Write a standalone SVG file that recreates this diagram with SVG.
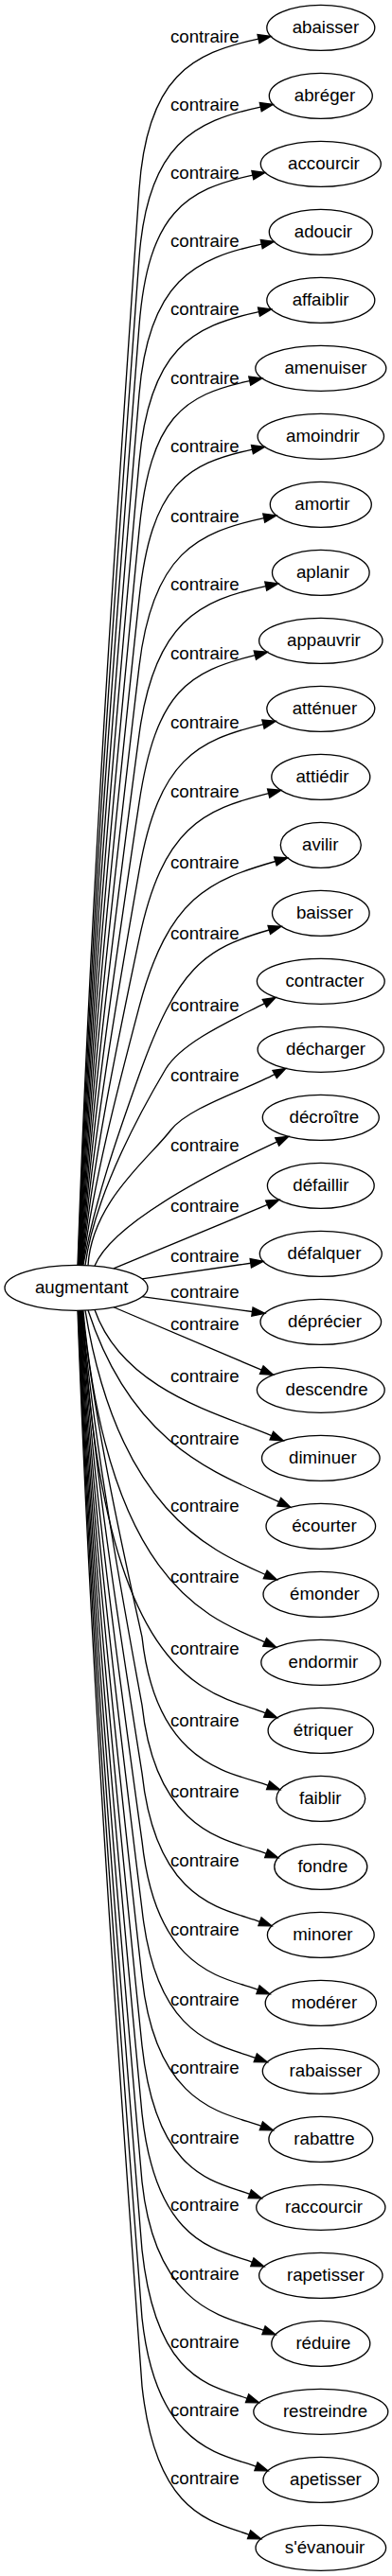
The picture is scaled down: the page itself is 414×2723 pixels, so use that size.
<svg xmlns="http://www.w3.org/2000/svg" width="414" height="2723" viewBox="0 0 414 2723">
<style>
text{font-family:"Liberation Sans",Arial,sans-serif;font-size:18.67px;fill:#000}
.node ellipse{fill:none;stroke:#000;stroke-width:1.33}
.edge path{fill:none;stroke:#000;stroke-width:1.33}
.edge polygon{fill:#000;stroke:#000;stroke-width:1.33}
</style>
<rect x="0" y="0" width="414" height="2723" fill="#fff"/>
<g id="edges">
<g class="edge"><path d="M82,1337.4 C95,962.17 121,575.56 147,200.33 C155.29,80.61 202.53,56.07 272.96,41.1"/><polygon points="286,38.33 273.93,45.67 271.99,36.53"/><text x="180" y="45">contraire</text></g>
<g class="edge"><path d="M82.45,1337.4 C95.36,985.93 121.18,623.8 147,272.33 C155.8,152.65 204.83,128.07 275.26,113.1"/><polygon points="288.3,110.33 276.23,117.67 274.29,108.53"/><text x="180" y="116.9">contraire</text></g>
<g class="edge"><path d="M82.9,1337.4 C95.72,1009.69 121.36,672.04 147,344.33 C156.36,224.69 196.43,200.07 266.86,185.1"/><polygon points="279.9,182.33 267.83,189.67 265.89,180.53"/><text x="180" y="189.2">contraire</text></g>
<g class="edge"><path d="M83.35,1337.4 C96.08,1033.45 121.54,720.28 147,416.33 C157.02,296.75 205.83,273.07 276.26,258.1"/><polygon points="289.3,255.33 277.23,262.67 275.29,253.53"/><text x="180" y="261.2">contraire</text></g>
<g class="edge"><path d="M83.8,1337.4 C96.44,1057.21 121.72,768.52 147,488.33 C157.79,368.81 203.03,344.57 273.46,329.6"/><polygon points="286.5,326.83 274.43,334.17 272.49,325.03"/><text x="180" y="333.1">contraire</text></g>
<g class="edge"><path d="M84.25,1337.4 C96.8,1080.97 121.9,816.76 147,560.33 C158.69,440.91 193.33,417.57 263.76,402.6"/><polygon points="276.8,399.83 264.73,407.17 262.79,398.03"/><text x="180" y="406.1">contraire</text></g>
<g class="edge"><path d="M84.7,1337.4 C97.16,1104.73 122.08,865 147,632.33 C159.78,513.02 196.03,490.07 266.46,475.1"/><polygon points="279.5,472.33 267.43,479.67 265.49,470.53"/><text x="180" y="477.7">contraire</text></g>
<g class="edge"><path d="M85.15,1337.4 C97.52,1128.49 122.26,913.24 147,704.33 C161.11,585.16 208.33,562.57 278.76,547.6"/><polygon points="291.8,544.83 279.73,552.17 277.79,543.03"/><text x="180" y="552.4">contraire</text></g>
<g class="edge"><path d="M85.6,1337.4 C97.88,1152.25 122.44,961.48 147,776.33 C162.78,657.37 210.33,634.57 280.76,619.6"/><polygon points="293.8,616.83 281.73,624.17 279.79,615.03"/><text x="180" y="623.7">contraire</text></g>
<g class="edge"><path d="M86.05,1337.4 C98.24,1176.01 122.62,1009.72 147,848.33 C164.93,729.67 199.47,709.95 269.37,692.55"/><polygon points="282.3,689.33 270.5,697.08 268.24,688.02"/><text x="180" y="696.7">contraire</text></g>
<g class="edge"><path d="M86.5,1337.4 C98.6,1199.77 122.8,1057.96 147,920.33 C167.78,802.14 208.07,782.95 277.97,765.55"/><polygon points="290.9,762.33 279.1,770.08 276.84,761.02"/><text x="180" y="770.4">contraire</text></g>
<g class="edge"><path d="M86.95,1337.4 C98.96,1223.53 122.98,1106.2 147,992.33 C171.77,874.91 213.77,855.95 283.67,838.55"/><polygon points="296.6,835.33 284.8,843.08 282.54,834.02"/><text x="180" y="843.4">contraire</text></g>
<g class="edge"><path d="M87.4,1337.4 C99.32,1247.29 123.16,1154.44 147,1064.33 C177.7,948.33 221.69,930.3 290.89,910.5"/><polygon points="303.7,906.83 292.18,914.99 289.6,906.01"/><text x="180" y="918.4">contraire</text></g>
<g class="edge"><path d="M87.85,1337.4 C99.68,1271.05 123.34,1202.68 147,1136.33 C187.31,1023.3 215.09,1002.8 284.29,983"/><polygon points="297.1,979.33 285.58,987.49 283,978.51"/><text x="180" y="992.7">contraire</text></g>
<g class="edge"><path d="M90,1337.5 C100,1260 154.6,1164.4 175,1130 C192.9,1099.9 252.94,1074.68 279.43,1060.59"/><polygon points="291.2,1054.33 281.62,1064.71 277.24,1056.47"/><text x="180" y="1068.7">contraire</text></g>
<g class="edge"><path d="M93,1337.6 C97,1270 159,1223 180,1195 C198,1171 259.23,1152.02 290.13,1135.59"/><polygon points="301.9,1129.33 292.32,1139.71 287.94,1131.47"/><text x="180" y="1143.3">contraire</text></g>
<g class="edge"><path d="M100,1338.1 C120,1290 238.34,1232.32 292.72,1206.96"/><polygon points="304.8,1201.33 294.69,1211.19 290.75,1202.73"/><text x="180" y="1217.4">contraire</text></g>
<g class="edge"><path d="M120,1340.85 L282.48,1273.43"/><polygon points="294.8,1268.33 284.27,1277.74 280.69,1269.12"/><text x="180" y="1281">contraire</text></g>
<g class="edge"><path d="M150,1351.9 L264.8,1335.24"/><polygon points="277.99,1333.33 265.47,1339.86 264.13,1330.62"/><text x="180" y="1334.1">contraire</text></g>
<g class="edge"><path d="M150,1370.7 L266.45,1386.53"/><polygon points="279.66,1388.33 265.82,1391.16 267.08,1381.9"/><text x="180" y="1372">contraire</text></g>
<g class="edge"><path d="M120,1381.75 L276.29,1448.12"/><polygon points="288.56,1453.33 274.46,1452.42 278.12,1443.82"/><text x="180" y="1406.1">contraire</text></g>
<g class="edge"><path d="M100,1384.5 C130,1470 231.6,1494.2 286.83,1517.62"/><polygon points="299.1,1522.83 285.01,1521.92 288.65,1513.32"/><text x="180" y="1460.7">contraire</text></g>
<g class="edge"><path d="M93,1385 C140,1530 231.4,1558.1 294.77,1587.7"/><polygon points="306.85,1593.33 292.8,1591.93 296.74,1583.47"/><text x="180" y="1526.7">contraire</text></g>
<g class="edge"><path d="M90,1385.1 C125,1600 225.4,1640 280.2,1664.41"/><polygon points="292.38,1669.83 278.3,1668.68 282.1,1660.14"/><text x="180" y="1598">contraire</text></g>
<g class="edge"><path d="M87.85,1385.2 C115,1680 224.8,1711.5 279.62,1735.91"/><polygon points="291.8,1741.33 277.72,1740.18 281.52,1731.64"/><text x="180" y="1672.7">contraire</text></g>
<g class="edge"><path d="M87.4,1385.2 C108,1790 224.8,1788.4 280.39,1810.84"/><polygon points="292.75,1815.83 278.64,1815.17 282.14,1806.51"/><text x="180" y="1749.1">contraire</text></g>
<g class="edge"><path d="M86.95,1385.2 C99.56,1499.09 124.78,1616.44 150,1730.33 C165,1868.33 245.57,1873.57 283.17,1887.27"/><polygon points="295.7,1891.83 281.57,1891.66 284.77,1882.88"/><text x="180" y="1824.9">contraire</text></g>
<g class="edge"><path d="M86.5,1385.2 C99.2,1522.85 124.6,1664.68 150,1802.33 C165,1940.33 243.67,1945.57 281.27,1959.27"/><polygon points="293.8,1963.83 279.67,1963.66 282.87,1954.88"/><text x="180" y="1899.7">contraire</text></g>
<g class="edge"><path d="M86.05,1385.2 C98.84,1546.61 124.42,1712.92 150,1874.33 C165,2012.33 236.87,2017.57 274.47,2031.27"/><polygon points="287,2035.83 272.87,2035.66 276.07,2026.88"/><text x="180" y="1973.3">contraire</text></g>
<g class="edge"><path d="M85.6,1385.2 C98.48,1570.37 124.24,1761.16 150,1946.33 C165,2084.33 234.87,2089.57 272.47,2103.27"/><polygon points="285,2107.83 270.87,2107.66 274.07,2098.88"/><text x="180" y="2046.3">contraire</text></g>
<g class="edge"><path d="M85.15,1385.2 C98.12,1594.13 124.06,1809.4 150,2018.33 C165,2156.33 232.17,2161.57 269.77,2175.27"/><polygon points="282.3,2179.83 268.17,2179.66 271.37,2170.88"/><text x="180" y="2119.7">contraire</text></g>
<g class="edge"><path d="M84.7,1385.2 C97.76,1617.89 123.88,1857.64 150,2090.33 C165,2228.33 238.27,2233.57 275.87,2247.27"/><polygon points="288.4,2251.83 274.27,2251.66 277.47,2242.88"/><text x="180" y="2192">contraire</text></g>
<g class="edge"><path d="M84.25,1385.2 C97.4,1641.65 123.7,1905.88 150,2162.33 C165,2300.33 226.17,2305.57 263.77,2319.27"/><polygon points="276.3,2323.83 262.17,2323.66 265.37,2314.88"/><text x="180" y="2265.7">contraire</text></g>
<g class="edge"><path d="M83.8,1385.2 C97.04,1665.41 123.52,1954.12 150,2234.33 C165,2372.33 228.77,2377.57 266.37,2391.27"/><polygon points="278.9,2395.83 264.77,2395.66 267.97,2386.88"/><text x="180" y="2337.2">contraire</text></g>
<g class="edge"><path d="M83.35,1385.2 C96.68,1689.17 123.34,2002.36 150,2306.33 C165,2444.33 240.92,2449.57 278.52,2463.27"/><polygon points="291.05,2467.83 276.92,2467.66 280.12,2458.88"/><text x="180" y="2409.9">contraire</text></g>
<g class="edge"><path d="M82.9,1385.2 C96.32,1712.93 123.16,2050.6 150,2378.33 C165,2516.33 223.47,2521.57 261.07,2535.27"/><polygon points="273.6,2539.83 259.47,2539.66 262.67,2530.88"/><text x="180" y="2482.2">contraire</text></g>
<g class="edge"><path d="M82.45,1385.2 C95.96,1736.69 122.98,2098.84 150,2450.33 C165,2588.33 232.87,2593.57 270.47,2607.27"/><polygon points="283,2611.83 268.87,2611.66 272.07,2602.88"/><text x="180" y="2554.1">contraire</text></g>
<g class="edge"><path d="M82,1385.2 C95.6,1760.45 122.8,2147.08 150,2522.33 C165,2660.33 225.47,2665.57 263.07,2679.27"/><polygon points="275.6,2683.83 261.47,2683.66 264.67,2674.88"/><text x="180" y="2626.4">contraire</text></g>
</g>
<g id="node-augmentant" class="node"><ellipse cx="80.5" cy="1361.3" rx="75.5" ry="24"/><text x="36.95" y="1367">augmentant</text></g>
<g id="node-abaisser" class="node"><ellipse cx="338.8" cy="29.33" rx="57" ry="24"/><text x="308.7" y="35.03">abaisser</text></g>
<g id="node-abreger" class="node"><ellipse cx="338.8" cy="101.33" rx="54.5" ry="24"/><text x="310.8" y="107.03">abréger</text></g>
<g id="node-accourcir" class="node"><ellipse cx="338.8" cy="173.33" rx="63.5" ry="24"/><text x="304.1" y="179.03">accourcir</text></g>
<g id="node-adoucir" class="node"><ellipse cx="338.8" cy="245.33" rx="54.5" ry="24"/><text x="310.8" y="251.03">adoucir</text></g>
<g id="node-affaiblir" class="node"><ellipse cx="338.8" cy="317.33" rx="57" ry="24"/><text x="308.7" y="323.03">affaiblir</text></g>
<g id="node-amenuiser" class="node"><ellipse cx="338.8" cy="389.33" rx="69" ry="24"/><text x="300.4" y="395.03">amenuiser</text></g>
<g id="node-amoindrir" class="node"><ellipse cx="338.8" cy="461.33" rx="66.7" ry="24"/><text x="302" y="467.03">amoindrir</text></g>
<g id="node-amortir" class="node"><ellipse cx="338.8" cy="533.33" rx="53.5" ry="24"/><text x="311.3" y="539.03">amortir</text></g>
<g id="node-aplanir" class="node"><ellipse cx="338.8" cy="605.33" rx="51.3" ry="24"/><text x="312.9" y="611.03">aplanir</text></g>
<g id="node-appauvrir" class="node"><ellipse cx="338.8" cy="677.33" rx="65.2" ry="24"/><text x="303" y="683.03">appauvrir</text></g>
<g id="node-attenuer" class="node"><ellipse cx="338.8" cy="749.33" rx="57" ry="24"/><text x="308.7" y="755.03">atténuer</text></g>
<g id="node-attiedir" class="node"><ellipse cx="338.8" cy="821.33" rx="52" ry="24"/><text x="312.4" y="827.03">attiédir</text></g>
<g id="node-avilir" class="node"><ellipse cx="338.8" cy="893.33" rx="42.5" ry="24"/><text x="319.1" y="899.03">avilir</text></g>
<g id="node-baisser" class="node"><ellipse cx="338.8" cy="965.33" rx="51.3" ry="24"/><text x="312.9" y="971.03">baisser</text></g>
<g id="node-contracter" class="node"><ellipse cx="338.8" cy="1037.33" rx="67.4" ry="24"/><text x="301.5" y="1043.03">contracter</text></g>
<g id="node-decharger" class="node"><ellipse cx="338.8" cy="1109.33" rx="66.7" ry="24"/><text x="302" y="1115.03">décharger</text></g>
<g id="node-decroitre" class="node"><ellipse cx="338.8" cy="1181.33" rx="61.5" ry="24"/><text x="305.6" y="1187.03">décroître</text></g>
<g id="node-defaillir" class="node"><ellipse cx="338.8" cy="1253.33" rx="56.4" ry="24"/><text x="309.3" y="1259.03">défaillir</text></g>
<g id="node-defalquer" class="node"><ellipse cx="338.8" cy="1325.33" rx="64.5" ry="24"/><text x="303.6" y="1331.03">défalquer</text></g>
<g id="node-deprecier" class="node"><ellipse cx="338.8" cy="1397.33" rx="63.8" ry="24"/><text x="304.1" y="1403.03">déprécier</text></g>
<g id="node-descendre" class="node"><ellipse cx="338.8" cy="1469.33" rx="67.4" ry="24"/><text x="301.5" y="1475.03">descendre</text></g>
<g id="node-diminuer" class="node"><ellipse cx="338.8" cy="1541.33" rx="62.3" ry="24"/><text x="305.1" y="1547.03">diminuer</text></g>
<g id="node-ecourter" class="node"><ellipse cx="338.8" cy="1613.33" rx="57.8" ry="24"/><text x="308.2" y="1619.03">écourter</text></g>
<g id="node-emonder" class="node"><ellipse cx="338.8" cy="1685.33" rx="60.8" ry="24"/><text x="306.1" y="1691.03">émonder</text></g>
<g id="node-endormir" class="node"><ellipse cx="338.8" cy="1757.33" rx="63" ry="24"/><text x="304.6" y="1763.03">endormir</text></g>
<g id="node-etriquer" class="node"><ellipse cx="338.8" cy="1829.33" rx="55.7" ry="24"/><text x="309.8" y="1835.03">étriquer</text></g>
<g id="node-faiblir" class="node"><ellipse cx="338.8" cy="1901.33" rx="46.9" ry="24"/><text x="316" y="1907.03">faiblir</text></g>
<g id="node-fondre" class="node"><ellipse cx="338.8" cy="1973.33" rx="49" ry="24"/><text x="314.4" y="1979.03">fondre</text></g>
<g id="node-minorer" class="node"><ellipse cx="338.8" cy="2045.33" rx="56.4" ry="24"/><text x="309.3" y="2051.03">minorer</text></g>
<g id="node-moderer" class="node"><ellipse cx="338.8" cy="2117.33" rx="58.6" ry="24"/><text x="307.7" y="2123.03">modérer</text></g>
<g id="node-rabaisser" class="node"><ellipse cx="338.8" cy="2189.33" rx="61.5" ry="24"/><text x="305.6" y="2195.03">rabaisser</text></g>
<g id="node-rabattre" class="node"><ellipse cx="338.8" cy="2261.33" rx="54.9" ry="24"/><text x="310.3" y="2267.03">rabattre</text></g>
<g id="node-raccourcir" class="node"><ellipse cx="338.8" cy="2333.33" rx="68.1" ry="24"/><text x="301" y="2339.03">raccourcir</text></g>
<g id="node-rapetisser" class="node"><ellipse cx="338.8" cy="2405.33" rx="65.2" ry="24"/><text x="303" y="2411.03">rapetisser</text></g>
<g id="node-reduire" class="node"><ellipse cx="338.8" cy="2477.33" rx="52" ry="24"/><text x="312.4" y="2483.03">réduire</text></g>
<g id="node-restreindre" class="node"><ellipse cx="338.8" cy="2549.33" rx="71" ry="24"/><text x="298.9" y="2555.03">restreindre</text></g>
<g id="node-apetisser" class="node"><ellipse cx="338.8" cy="2621.33" rx="60.8" ry="24"/><text x="306.1" y="2627.03">apetisser</text></g>
<g id="node-s-evanouir" class="node"><ellipse cx="338.8" cy="2693.33" rx="68.8" ry="24"/><text x="300.8" y="2699.03">s'évanouir</text></g>
</svg>
